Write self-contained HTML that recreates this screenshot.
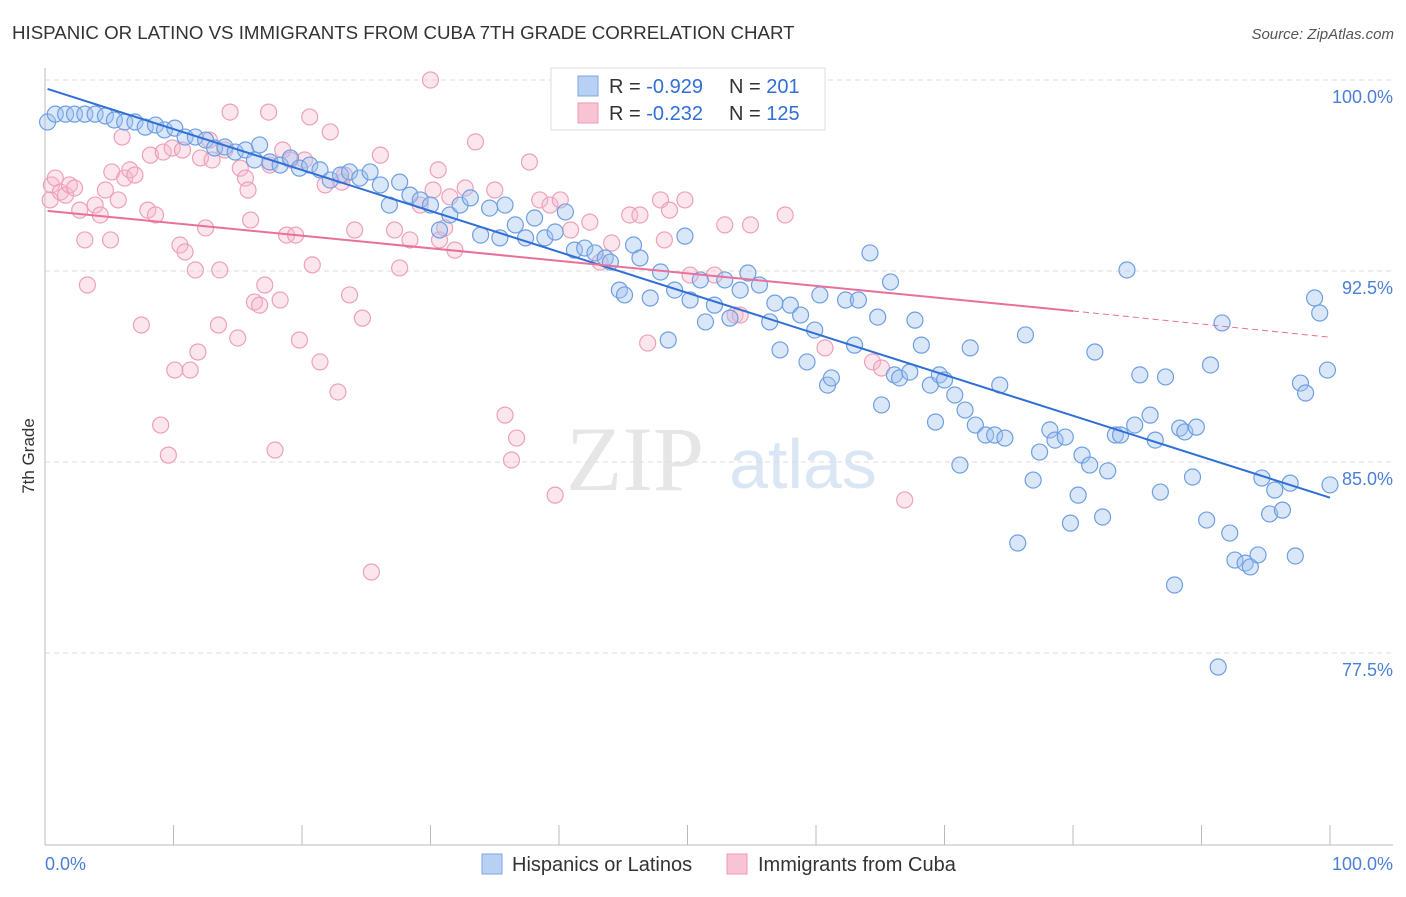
<!DOCTYPE html>
<html><head><meta charset="utf-8"><style>
body{margin:0;background:#fff;font-family:"Liberation Sans",sans-serif;}
</style></head><body>
<svg id="chart" width="1406" height="892" xmlns="http://www.w3.org/2000/svg" font-family="Liberation Sans, sans-serif">
<text x="12" y="39" font-size="18.7" fill="#333">HISPANIC OR LATINO VS IMMIGRANTS FROM CUBA 7TH GRADE CORRELATION CHART</text>
<text x="1394" y="39" font-size="15" fill="#555" font-style="italic" text-anchor="end">Source: ZipAtlas.com</text>
<text x="34" y="456" font-size="17" fill="#333" text-anchor="middle" transform="rotate(-90 34 456)">7th Grade</text>
<g><text x="635" y="490" font-size="92" font-family="Liberation Serif, serif" fill="#e6e6e6" text-anchor="middle">ZIP</text><text x="803" y="488" font-size="70" fill="#dbe6f5" text-anchor="middle">atlas</text></g>
<g id="grid"></g><g id="axes"></g><g id="pts"></g><g id="lines"></g>
<g>
<rect x="551" y="68" width="274" height="62" fill="#fff" stroke="#ddd"/>
<rect x="578" y="76" width="20" height="20" fill="#b8d0f4" stroke="#7fa6e0"/>
<rect x="578" y="103" width="20" height="20" fill="#f8c4d4" stroke="#ef9ab6"/>
<text x="609" y="93" font-size="20" fill="#333">R = <tspan fill="#2f6fd6">-0.929</tspan><tspan x="729">N = </tspan><tspan fill="#2f6fd6">201</tspan></text>
<text x="609" y="120" font-size="20" fill="#333">R = <tspan fill="#2f6fd6">-0.232</tspan><tspan x="729">N = </tspan><tspan fill="#2f6fd6">125</tspan></text>
</g>
<g>
<rect x="482" y="854" width="20" height="20" fill="#b8d0f4" stroke="#7fa6e0"/>
<text x="512" y="871" font-size="20" fill="#333">Hispanics or Latinos</text>
<rect x="727" y="854" width="20" height="20" fill="#f8c4d4" stroke="#ef9ab6"/>
<text x="758" y="871" font-size="20" fill="#333">Immigrants from Cuba</text>
</g>
</svg>
<script>
const yTicks=[100,92.5,85,77.5];
const yTickLabels=["100.0%","92.5%","85.0%","77.5%"];
const blueX=[0.2,0.8,1.6,2.3,3.1,3.9,4.7,5.4,6.2,7.0,7.8,8.6,9.3,10.1,10.9,11.7,12.5,13.2,14.0,14.8,15.6,16.3,16.7,17.5,18.3,19.1,19.8,20.6,21.4,22.2,23.0,23.7,24.5,25.3,26.1,26.8,27.6,28.4,29.2,30.0,30.7,31.5,32.3,33.1,33.9,34.6,35.4,35.8,36.6,37.4,38.1,38.9,39.7,40.5,41.2,42.0,42.8,43.6,44.0,44.7,45.1,45.8,46.3,47.1,47.9,48.5,49.0,49.8,50.2,51.0,51.4,52.1,52.9,53.3,54.1,54.7,55.6,56.4,56.8,57.2,58.0,58.8,59.3,59.9,60.3,60.9,61.2,62.3,63.0,63.3,64.2,64.8,65.1,65.8,66.1,66.5,67.3,67.7,68.2,68.9,69.3,69.6,70.0,70.8,71.2,71.6,72.0,72.4,73.2,73.9,74.3,74.7,75.7,76.3,76.9,77.4,78.2,78.6,79.4,79.8,80.4,80.7,81.3,81.7,82.3,82.7,83.3,83.7,84.2,84.8,85.2,86.0,86.4,86.8,87.2,87.9,88.3,88.7,89.3,89.6,90.4,90.7,91.3,91.6,92.2,92.6,93.4,93.8,94.4,94.7,95.3,95.7,96.3,96.9,97.3,97.7,98.1,98.8,99.2,99.8,100];
const blueY=[98.35,98.66,98.66,98.66,98.66,98.66,98.59,98.43,98.35,98.35,98.15,98.23,98.04,98.11,97.76,97.76,97.64,97.33,97.37,97.17,97.25,96.86,97.45,96.78,96.66,96.94,96.54,96.66,96.47,96.07,96.27,96.39,96.15,96.39,95.88,95.09,95.99,95.48,95.29,95.09,94.11,94.70,95.09,95.37,93.91,94.97,93.80,95.09,94.31,93.80,94.58,93.80,94.03,94.82,93.32,93.40,93.21,93.01,92.85,91.75,91.56,93.52,93.01,91.44,92.46,89.79,91.75,93.87,91.36,92.15,90.50,91.16,92.15,90.65,91.75,92.42,91.95,90.50,91.24,89.40,91.16,90.77,88.93,90.18,91.56,88.02,88.30,91.36,89.59,91.36,93.21,90.69,87.24,92.07,88.42,88.30,88.53,90.57,89.59,88.02,86.57,88.42,88.22,87.63,84.88,87.04,89.48,86.45,86.06,86.06,88.02,85.94,81.82,89.99,84.29,85.39,86.26,85.86,85.98,82.60,83.70,85.27,84.88,89.32,82.84,84.65,86.06,86.06,92.54,86.45,88.42,86.84,85.86,83.82,88.34,80.17,86.33,86.18,84.41,86.37,82.72,88.81,76.95,90.46,82.21,81.15,81.03,80.88,81.35,84.37,82.96,83.90,83.11,84.17,81.31,88.10,87.71,91.44,90.85,88.61,84.10];
const pinkX=[0.4,0.5,0.8,1.2,1.6,1.9,2.3,2.7,3.1,3.3,3.9,4.3,4.7,5.1,5.2,5.7,6.0,6.2,6.6,7.0,7.5,8.0,8.2,8.6,9.0,9.2,9.6,9.9,10.1,10.5,10.7,10.9,11.3,11.7,11.9,12.1,12.5,12.8,13.0,13.5,13.6,14.0,14.4,15.0,15.2,15.6,15.8,16.0,16.3,16.7,17.1,17.4,17.5,17.9,18.3,18.5,18.8,19.1,19.5,19.8,20.2,20.6,20.8,21.4,21.8,22.2,22.8,23.1,23.3,23.7,24.1,24.7,25.4,26.1,27.2,27.6,28.4,29.2,30.0,30.2,30.6,30.7,31.1,31.5,31.9,32.7,33.5,35.0,35.8,36.3,36.7,37.7,38.5,39.3,39.7,40.1,40.9,42.4,43.2,44.1,45.5,46.3,46.9,47.9,48.2,48.6,49.8,50.2,52.1,52.9,53.7,54.1,54.9,57.6,60.7,64.4,65.1,66.9];
const pinkY=[95.29,95.88,96.15,95.60,95.48,95.88,95.76,94.89,93.72,91.95,95.09,94.70,95.68,93.72,96.39,95.29,97.76,96.15,96.47,96.27,90.38,94.89,97.05,94.70,86.45,97.17,85.27,97.33,88.61,93.52,97.25,93.25,88.61,92.54,89.32,96.94,94.19,97.64,96.86,90.38,92.54,97.25,98.74,89.87,96.54,96.15,95.68,94.50,91.28,91.16,91.95,98.74,96.66,85.47,91.36,97.25,93.91,96.86,93.91,89.79,96.86,98.55,92.74,88.93,95.88,97.96,87.75,95.99,96.27,91.56,94.11,90.65,80.68,97.05,94.11,92.62,93.72,95.09,100,95.68,96.47,93.72,94.19,95.41,93.32,95.76,97.57,95.68,86.84,85.08,85.94,96.78,95.29,95.09,83.70,95.29,94.11,94.42,92.85,93.60,94.70,94.70,89.67,95.29,93.72,94.89,95.29,92.34,92.34,94.31,90.77,90.77,94.31,94.70,89.48,88.93,88.69,83.51];
const blueLine=[[0.2,99.65],[100,83.6]];
const pinkLine=[[0.2,94.86],[80,90.93]];
const pinkDash=[[80,90.93],[100,89.9]];
const X0=45,X1=1330,Y100=80,PX=191/7.5;
const sx=v=>X0+(X1-X0)*v/100;
const sy=v=>Y100+(100-v)*PX;
const NS="http://www.w3.org/2000/svg";
function mk(tag,attrs,parent){const e=document.createElementNS(NS,tag);for(const k in attrs)e.setAttribute(k,attrs[k]);parent.appendChild(e);return e;}
const grid=document.getElementById('grid'),axes=document.getElementById('axes'),pts=document.getElementById('pts'),lines=document.getElementById('lines');
yTicks.forEach((t,i)=>{
 const l=mk('line',{x1:45,x2:1393,y1:sy(t),y2:sy(t),stroke:'#ddd','stroke-dasharray':'5,4'},grid);
 
 
 const tx=mk('text',{x:1393,y:sy(t)+23,'font-size':18,fill:'#4a7fd8','text-anchor':'end'},axes);
 tx.textContent=yTickLabels[i];
 
 
});
const ax=mk('line',{x1:45,x2:45,y1:68,y2:845,stroke:'#bbb'},axes);


const bx=mk('line',{x1:45,x2:1393,y1:845,y2:845,stroke:'#bbb'},axes);


for(let i=1;i<=10;i++){const t=mk('line',{x1:sx(i*10),x2:sx(i*10),y1:825,y2:845,stroke:'#bbb'},axes);
 
 }
const xl=mk('text',{x:45,y:870,'font-size':18,fill:'#4a7fd8'},axes);xl.textContent='0.0%';


const xr=mk('text',{x:1393,y:870,'font-size':18,fill:'#4a7fd8','text-anchor':'end'},axes);xr.textContent='100.0%';


pinkX.forEach((x,i)=>{const c=mk('circle',{cx:sx(x),cy:sy(pinkY[i]),r:8,fill:'rgba(246,182,202,0.35)',stroke:'#eea0ba','stroke-width':1.2},pts);
 
 });
blueX.forEach((x,i)=>{const c=mk('circle',{cx:sx(x),cy:sy(blueY[i]),r:8,fill:'rgba(160,194,240,0.4)',stroke:'#6f9fe2','stroke-width':1.2},pts);
 
 });
const bl=mk('line',{x1:sx(blueLine[0][0]),y1:sy(blueLine[0][1]),x2:sx(blueLine[1][0]),y2:sy(blueLine[1][1]),stroke:'#2f6fd6','stroke-width':2},lines);


const pl=mk('line',{x1:sx(pinkLine[0][0]),y1:sy(pinkLine[0][1]),x2:sx(pinkLine[1][0]),y2:sy(pinkLine[1][1]),stroke:'#e8709a','stroke-width':2},lines);


const pd=mk('line',{x1:sx(pinkDash[0][0]),y1:sy(pinkDash[0][1]),x2:sx(pinkDash[1][0]),y2:sy(pinkDash[1][1]),stroke:'#e8709a','stroke-width':1,'stroke-dasharray':'6,4'},lines);


</script>
</body></html>
